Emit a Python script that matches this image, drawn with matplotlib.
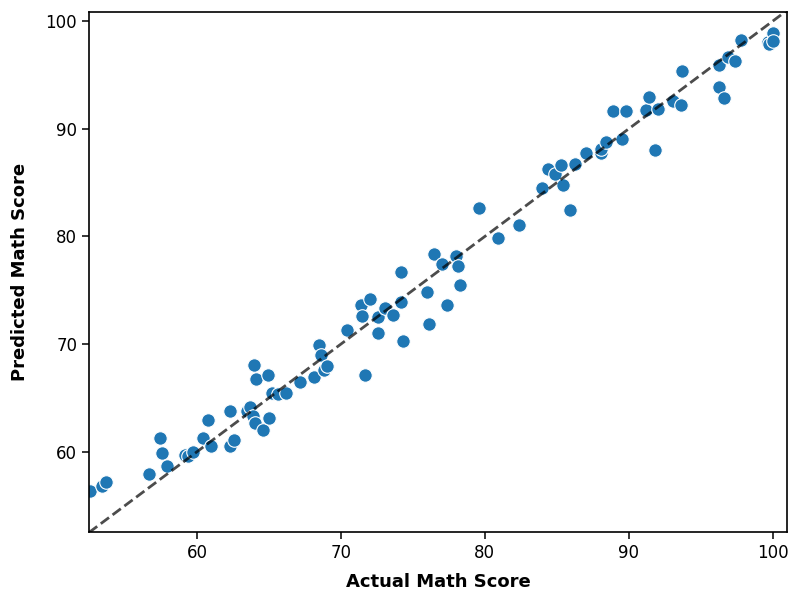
import matplotlib
matplotlib.use("Agg")
from matplotlib import pyplot as plt

# actual vs predicted math scores
actual = [52.6, 53.4, 53.7, 56.7, 57.4, 57.55, 57.9, 59.2, 59.4, 59.7,
          60.4, 60.95, 60.8, 62.3, 62.3, 62.6, 63.45, 63.7, 63.9, 64.0,
          64.6, 65.0, 63.95, 64.1, 64.95, 65.2, 65.65, 66.2, 67.15, 68.15,
          68.5, 68.6, 68.8, 69.05, 71.7, 70.4, 71.4, 72.0, 71.5, 72.6,
          72.6, 73.1, 73.6, 74.2, 74.2, 74.3, 75.95, 76.1, 76.5, 77.0,
          77.4, 78.0, 78.15, 78.3, 79.6, 80.9, 82.4, 85.9, 84.0, 84.4,
          84.9, 85.3, 85.4, 86.3, 87.05, 88.05, 88.1, 88.45, 89.55, 91.8,
          88.9, 89.8, 91.2, 91.4, 92.0, 93.1, 93.65, 93.7, 96.3, 96.6,
          96.3, 96.9, 97.4, 97.8, 99.7, 99.75, 100.0, 100.0]
predicted = [56.4, 56.8, 57.2, 57.95, 61.3, 59.9, 58.7, 59.7, 59.6, 60.0,
             61.3, 60.55, 62.95, 63.8, 60.5, 61.05, 63.75, 64.2, 63.3, 62.7,
             62.0, 63.1, 68.1, 66.8, 67.1, 65.45, 65.4, 65.45, 66.5, 66.9,
             69.9, 69.0, 67.55, 68.0, 67.15, 71.3, 73.6, 74.2, 72.6, 72.55,
             71.0, 73.4, 72.7, 73.95, 76.7, 70.3, 74.8, 71.85, 78.35, 77.4,
             73.6, 78.2, 77.3, 75.5, 82.65, 79.9, 81.1, 82.45, 84.5, 86.25,
             85.8, 86.6, 84.8, 86.7, 87.75, 87.8, 88.1, 88.75, 89.1, 88.0,
             91.7, 91.7, 91.75, 92.95, 91.85, 92.6, 92.2, 95.4, 93.9, 92.85,
             95.95, 96.7, 96.3, 98.25, 98.1, 97.9, 98.9, 98.2]

fig = plt.figure(figsize=(7.91, 5.92), dpi=100)
ax = fig.add_axes([0.1125, 0.1014, 0.8825, 0.8783])

ax.scatter(actual, predicted, s=95, color='#1f77b4', edgecolors='white',
           linewidths=0.8, zorder=2)

xlim = (52.5, 101.0)
ylim = (52.55, 100.85)
lo = min(xlim[0], ylim[0])
hi = max(xlim[1], ylim[1])
ax.plot([lo, hi], [lo, hi], ls='--', color='k', alpha=0.7, lw=2, zorder=3)
ax.set_xlim(xlim)
ax.set_ylim(ylim)

ax.set_xticks([60, 70, 80, 90, 100])
ax.set_yticks([60, 70, 80, 90, 100])
ax.tick_params(labelsize=12, length=5, width=1.1)
for sp in ax.spines.values():
    sp.set_linewidth(1.2)

ax.set_xlabel('Actual Math Score', fontsize=13, fontweight='bold',
              labelpad=8)
ax.set_ylabel('Predicted Math Score', fontsize=13, fontweight='bold',
              labelpad=12)

fig.savefig('out.png', dpi=100)
